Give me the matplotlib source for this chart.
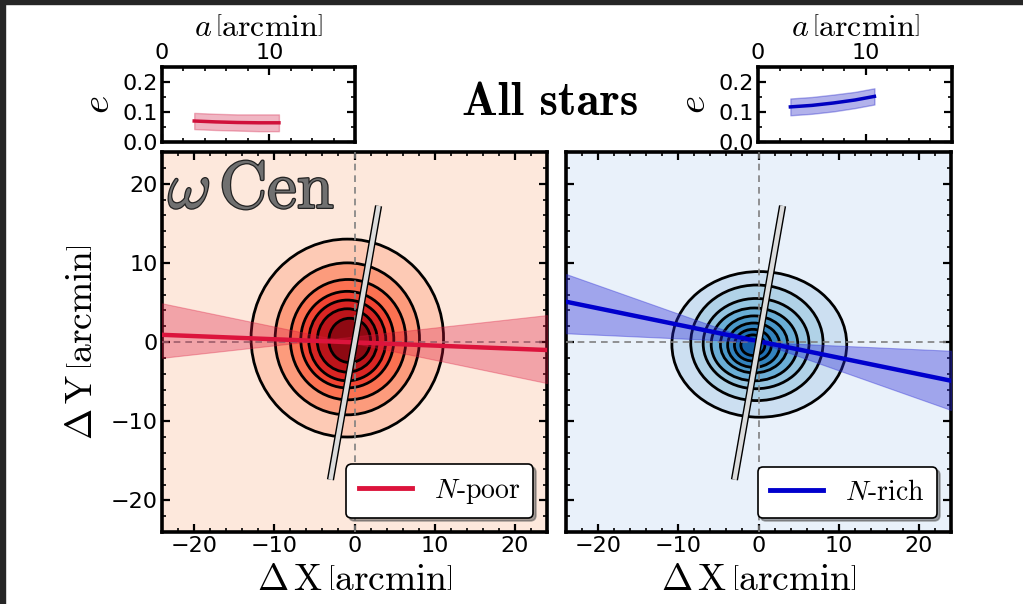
import matplotlib
matplotlib.use("Agg")
import matplotlib.pyplot as plt
import matplotlib.patheffects as pe
from matplotlib.patches import Ellipse, Rectangle
from matplotlib.ticker import MultipleLocator
import numpy as np

plt.rcParams.update(
    {
        "mathtext.fontset": "cm",
        "font.size": 16,
        "xtick.direction": "in",
        "ytick.direction": "in",
        "xtick.top": True,
        "ytick.right": True,
    }
)

# ellipticity profiles (semi-major axis a, ellipticity e, error)
a_poor = [3.0, 5.0, 7.0, 9.0, 10.9]
e_poor = [0.070, 0.067, 0.065, 0.064, 0.064]
e_poor_err = [0.027, 0.027, 0.027, 0.028, 0.028]
a_rich = [3.0, 5.0, 7.0, 9.0, 10.8]
e_rich = [0.117, 0.122, 0.130, 0.140, 0.152]
e_rich_err = [0.028, 0.028, 0.028, 0.027, 0.027]

# density contours (outer -> inner): centre, semi-axes
poor_cx = [-0.9, -0.9, -0.8, -0.9, -0.9, -0.9, -0.6]
poor_cy = [0.5, 0.4, 0.3, 0.3, 0.2, 0.2, 0.2]
poor_rx = [12.0, 9.0, 7.2, 5.8, 4.8, 3.75, 2.6]
poor_ry = [12.5, 9.6, 7.6, 6.1, 5.1, 4.0, 2.8]
rich_cx = [0.1, -0.2, -0.3, -0.5, -0.55, -0.6, -0.7, -0.7]
rich_cy = [-0.3, -0.1, -0.2, -0.3, -0.3, -0.4, -0.4, -0.4]
rich_rx = [10.9, 8.25, 6.6, 5.4, 4.2, 3.25, 2.3, 1.5]
rich_ry = [9.2, 7.3, 5.7, 4.6, 3.6, 2.8, 2.0, 1.3]
poor_shades = [0.2, 0.35, 0.48, 0.6, 0.7, 0.8, 0.92]
rich_shades = [0.22, 0.32, 0.4, 0.5, 0.6, 0.68, 0.75, 0.82]

# rotation-axis bar endpoints
bar_x = [-3.0, 3.0]
bar_y = [-17.4, 17.2]

# position-angle fits: best line and the two bounding lines (slope, intercept)
poor_fit = (-0.040, -0.05)
poor_lo = (-0.21, -0.15)
poor_hi = (0.1125, 0.70)
rich_fit = (-0.208, 0.10)
rich_lo = (-0.358, 0.0)
rich_hi = (-0.046, 0.0)

fig = plt.figure(figsize=(10.23, 6.04), dpi=100)
fig.patches.append(Rectangle((0, 0), 5 / 1023, 1, transform=fig.transFigure,
                             color="#262626", zorder=10))
fig.patches.append(Rectangle((0, 1 - 4 / 604), 1, 4 / 604, transform=fig.transFigure,
                             color="#262626", zorder=10))

ax_l = fig.add_axes([0.1584, 0.1192, 0.3763, 0.6291])
ax_r = fig.add_axes([0.5533, 0.1192, 0.3763, 0.6291])
ax_el = fig.add_axes([0.1584, 0.7649, 0.1887, 0.1242])
ax_er = fig.add_axes([0.7410, 0.7649, 0.1896, 0.1242])


def style(ax, major, minor):
    for s in ax.spines.values():
        s.set_linewidth(2.6)
    ax.xaxis.set_major_locator(MultipleLocator(major[0]))
    ax.xaxis.set_minor_locator(MultipleLocator(minor[0]))
    ax.yaxis.set_major_locator(MultipleLocator(major[1]))
    ax.yaxis.set_minor_locator(MultipleLocator(minor[1]))
    ax.tick_params(which="both", direction="in", top=True, right=True)
    ax.tick_params(which="major", length=6, width=1.6, pad=3)
    ax.tick_params(which="minor", length=3, width=1.2)


xx = np.linspace(-24, 24, 50)
panels = [
    (ax_l, "#fde8dc", plt.cm.Reds, poor_cx, poor_cy, poor_rx, poor_ry, poor_shades,
     poor_fit, poor_lo, poor_hi, "#dc143c", "#dc143c", 0.32, r"$N$-poor"),
    (ax_r, "#e9f1fa", plt.cm.Blues, rich_cx, rich_cy, rich_rx, rich_ry, rich_shades,
     rich_fit, rich_lo, rich_hi, "#0000cd", "#2a2ad6", 0.38, r"$N$-rich"),
]
for (ax, bg, cmap, cx, cy, rx, ry, shades, fit, lo, hi, lc, bc, balpha, lab) in panels:
    ax.set_facecolor(bg)
    for i in range(len(cx)):
        ax.add_patch(Ellipse((cx[i], cy[i]), 2 * rx[i], 2 * ry[i],
                             facecolor=cmap(shades[i]), edgecolor="black",
                             lw=2.0, zorder=2))
    ax.axvline(0, color="gray", ls="--", lw=1.2, dashes=(4, 3), zorder=3)
    ax.axhline(0, color="gray", ls="--", lw=1.2, dashes=(4, 3), zorder=3)
    y_lo = lo[0] * xx + lo[1]
    y_hi = hi[0] * xx + hi[1]
    ax.fill_between(xx, np.minimum(y_lo, y_hi), np.maximum(y_lo, y_hi),
                    color=bc, alpha=balpha, lw=0.8, zorder=4)
    ax.plot(xx, fit[0] * xx + fit[1], color=lc, lw=3.2, zorder=5, label=lab)
    ax.plot(bar_x, bar_y, color="#dcdcdc", lw=3.2, solid_capstyle="butt", zorder=6,
            path_effects=[pe.Stroke(linewidth=5.2, foreground="black"), pe.Normal()])
    ax.set_xlim(-24, 24)
    ax.set_ylim(-24, 24)
    style(ax, (10, 10), (2, 2))
    ax.set_xlabel(r"$\Delta\,\mathrm{X}\,\left[\mathrm{arcmin}\right]$", fontsize=27,
                  labelpad=4)
    leg = ax.legend(loc="lower right", fancybox=True, shadow=True, framealpha=1,
                    edgecolor="black", handlelength=1.9, borderpad=0.45,
                    prop={"family": "cmr10", "size": 20}, borderaxespad=0.5)
    leg.get_frame().set_linewidth(1.2)
    for h in leg.get_lines():
        h.set_linewidth(3.5)

ax_l.set_ylabel(r"$\Delta\,\mathrm{Y}\,\left[\mathrm{arcmin}\right]$", fontsize=27,
                labelpad=8)
ax_r.tick_params(labelleft=False)

t = ax_l.text(0.015, 0.975, r"$\omega\,$Cen", transform=ax_l.transAxes, ha="left",
              va="top", fontsize=48, family="cmr10", color="#707070", zorder=8)
t.set_path_effects([pe.Stroke(linewidth=1.8, foreground="#222222"), pe.Normal()])

for ax, a, e, err, col in [(ax_el, a_poor, e_poor, e_poor_err, "#d0103a"),
                           (ax_er, a_rich, e_rich, e_rich_err, "#0000c0")]:
    a = np.array(a)
    e = np.array(e)
    err = np.array(err)
    ax.fill_between(a, e - err, e + err, color=col, alpha=0.3, lw=1)
    ax.plot(a, e, color=col, lw=2.5)
    ax.set_xlim(0, 18)
    ax.set_ylim(0, 0.25)
    style(ax, (10, 0.1), (2, 0.05))
    ax.tick_params(labelsize=16, labeltop=True, labelbottom=False)
    ax.xaxis.set_label_position("top")
    ax.set_xlabel(r"$a\,\left[\mathrm{arcmin}\right]$", fontsize=23, labelpad=5)
    ax.set_ylabel(r"$e$", fontsize=28, labelpad=4)

fig.text(0.538, 0.829, "All stars", ha="center", va="center", fontsize=34,
         family="cmb10")

fig.savefig("out.png", dpi=100)
